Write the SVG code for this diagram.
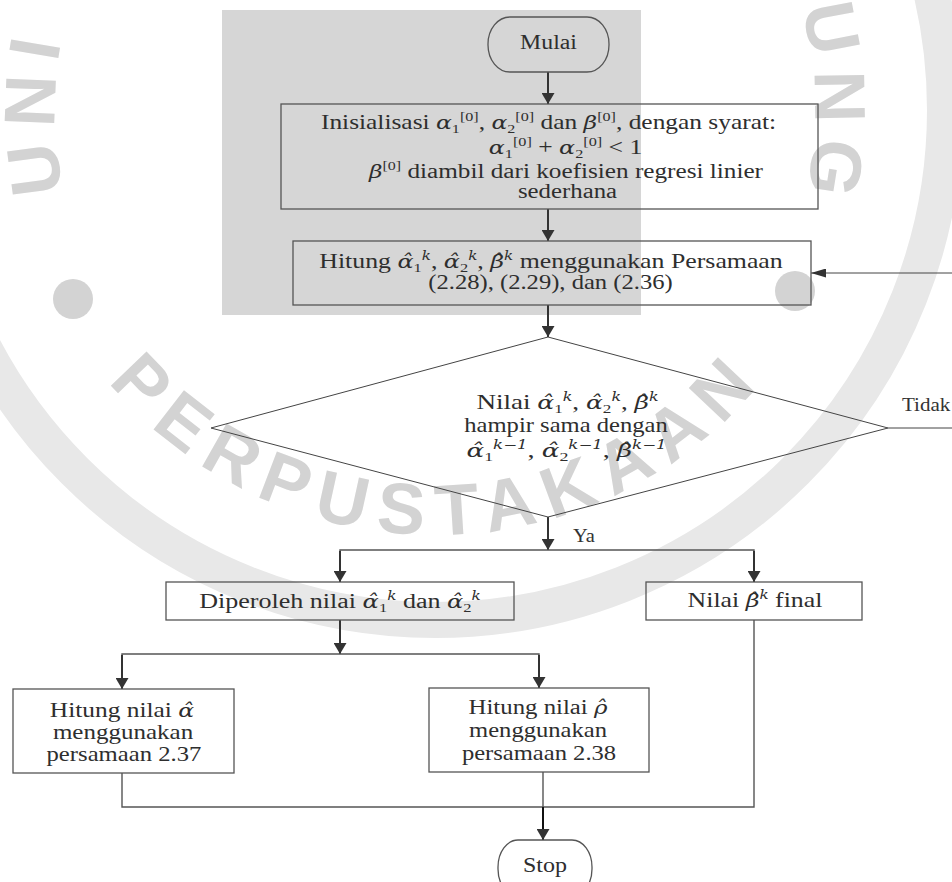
<svg xmlns="http://www.w3.org/2000/svg" width="952" height="882" viewBox="0 0 952 882">
<style>
.t{font-family:"Liberation Serif","Times New Roman",serif;font-size:20.5px;fill:#2e2e2e;text-anchor:middle}
.l{font-family:"Liberation Serif","Times New Roman",serif;font-size:18px;fill:#333}
.m{font-family:"DejaVu Serif",serif;font-style:italic;font-size:19px}
.s{font-family:"Liberation Serif","Times New Roman",serif;font-size:13px;font-style:normal}
.k{font-family:"DejaVu Serif",serif;font-style:italic;font-size:12px}
.box{fill:none;stroke:#555;stroke-width:1.3}
.ar{fill:none;stroke:#333;stroke-width:2}
.ln{fill:none;stroke:#555;stroke-width:1.4}
.wm{font-family:"Liberation Sans",Arial,sans-serif;font-weight:bold;font-size:72px;fill:#d3d3d3;letter-spacing:13px}
</style>
<defs>
<marker id="ah" viewBox="0 0 11 13" markerWidth="11" markerHeight="13" refX="11" refY="6.5" orient="auto" markerUnits="userSpaceOnUse"><path d="M0,0 L11,6.5 L0,13 z" fill="#333"/></marker>
<marker id="ahs" viewBox="0 0 15 9" markerWidth="15" markerHeight="9" refX="15" refY="4.5" orient="auto" markerUnits="userSpaceOnUse"><path d="M0,0 L15,4.5 L0,9 z" fill="#333"/></marker>
<path id="wmTop" d="M77.9,240 A380,380 0 1 1 792.1,240"/>
<path id="wmBot" d="M10,110 A425,425 0 0 0 860,110"/>
</defs>
<rect width="952" height="882" fill="#fff"/>
<g id="watermark">
<circle cx="435" cy="110" r="510" fill="none" stroke="#e8e8e8" stroke-width="36"/>
<circle cx="73" cy="299" r="20" fill="#d3d3d3"/>
<circle cx="795" cy="291" r="20" fill="#d3d3d3"/>
<text class="wm"><textPath href="#wmTop" startOffset="50">UNI</textPath></text>
<text class="wm"><textPath href="#wmTop" startOffset="1222">UNG</textPath></text>
<text class="wm" text-anchor="middle"><textPath href="#wmBot" startOffset="670">PERPUSTAKAAN</textPath></text>
</g>
<rect id="shade" x="222" y="10" width="419" height="305" fill="#d6d6d6"/>
<g id="connectors">
<line class="ar" x1="548" y1="72" x2="548" y2="104" marker-end="url(#ah)"/>
<line class="ar" x1="548" y1="209" x2="548" y2="241" marker-end="url(#ah)"/>
<line class="ar" x1="548" y1="305" x2="548" y2="337" marker-end="url(#ah)"/>
<line class="ar" x1="548" y1="517" x2="548" y2="550" marker-end="url(#ah)"/>
<polyline class="ln" points="340,582 340,550 754,550 754,582"/>
<line class="ar" x1="340" y1="551" x2="340" y2="582" marker-end="url(#ah)"/>
<line class="ar" x1="754" y1="551" x2="754" y2="582" marker-end="url(#ah)"/>
<line class="ar" x1="340" y1="620" x2="340" y2="654" marker-end="url(#ah)"/>
<polyline class="ln" points="122,689 122,654 539,654 539,688"/>
<line class="ar" x1="122" y1="655" x2="122" y2="689" marker-end="url(#ah)"/>
<line class="ar" x1="539" y1="655" x2="539" y2="688" marker-end="url(#ah)"/>
<polyline class="ln" points="122,773 122,807 754,807 754,620"/>
<line class="ln" x1="543" y1="772" x2="543" y2="807"/>
<line x1="543" y1="807" x2="543" y2="840" stroke="#111" stroke-width="2" marker-end="url(#ah)"/>
<polyline fill="none" stroke="#444" stroke-width="1" points="888,428 956,428 956,273 811,273" marker-end="url(#ahs)"/>
<text class="l" transform="translate(902,411) scale(1.17,1)">Tidak</text>
<text class="l" transform="translate(573,542) scale(1.14,1)">Ya</text>
</g>
<g id="n-mulai">
<rect class="box" x="488" y="17" width="121" height="55" rx="22" ry="27"/>
<text class="t" transform="translate(548.5,49) scale(1.16,1)">Mulai</text>
</g>
<g id="n-init">
<rect class="box" x="281" y="104" width="537" height="105"/>
<text class="t" transform="translate(548.5,129) scale(1.24,1)">Inisialisasi <tspan class="m">α</tspan><tspan class="s" baseline-shift="-4">1</tspan><tspan class="s" baseline-shift="8">[0]</tspan>, <tspan class="m">α</tspan><tspan class="s" baseline-shift="-4">2</tspan><tspan class="s" baseline-shift="8">[0]</tspan> dan <tspan class="m">β</tspan><tspan class="s" baseline-shift="8">[0]</tspan>, dengan syarat:</text>
<text class="t" transform="translate(565.5,154) scale(1.25,1)"><tspan class="m">α</tspan><tspan class="s" baseline-shift="-4">1</tspan><tspan class="s" baseline-shift="8">[0]</tspan> + <tspan class="m">α</tspan><tspan class="s" baseline-shift="-4">2</tspan><tspan class="s" baseline-shift="8">[0]</tspan> &lt; 1</text>
<text class="t" transform="translate(566,178) scale(1.23,1)"><tspan class="m">β</tspan><tspan class="s" baseline-shift="8">[0]</tspan> diambil dari koefisien regresi linier</text>
<text class="t" transform="translate(567.5,198) scale(1.21,1)">sederhana</text>
</g>
<g id="n-hitung">
<rect class="box" x="293" y="241" width="518" height="64"/>
<text class="t" transform="translate(551,268) scale(1.26,1)">Hitung <tspan class="m">α̂</tspan><tspan class="s" baseline-shift="-4">1</tspan><tspan class="k" baseline-shift="8">k</tspan>, <tspan class="m">α̂</tspan><tspan class="s" baseline-shift="-4">2</tspan><tspan class="k" baseline-shift="8">k</tspan>, <tspan class="m">β̂</tspan><tspan class="k" baseline-shift="8">k</tspan> menggunakan Persamaan</text>
<text class="t" transform="translate(550.5,289) scale(1.2,1)">(2.28), (2.29), dan (2.36)</text>
</g>
<g id="n-decision">
<polygon class="box" style="stroke:#444;stroke-width:1" points="548,337 888,428 548,517 211,428"/>
<text class="t" transform="translate(567.5,409) scale(1.32,1)">Nilai <tspan class="m">α̂</tspan><tspan class="s" baseline-shift="-4">1</tspan><tspan class="k" baseline-shift="8">k</tspan>, <tspan class="m">α̂</tspan><tspan class="s" baseline-shift="-4">2</tspan><tspan class="k" baseline-shift="8">k</tspan>, <tspan class="m">β̂</tspan><tspan class="k" baseline-shift="8">k</tspan></text>
<text class="t" transform="translate(566,432) scale(1.2,1)">hampir sama dengan</text>
<text class="t" transform="translate(566.5,457) scale(1.38,1)"><tspan class="m">α̂</tspan><tspan class="s" baseline-shift="-4">1</tspan><tspan class="k" baseline-shift="8">k−1</tspan>, <tspan class="m">α̂</tspan><tspan class="s" baseline-shift="-4">2</tspan><tspan class="k" baseline-shift="8">k−1</tspan>, <tspan class="m">β̂</tspan><tspan class="k" baseline-shift="8">k−1</tspan></text>
</g>
<g id="n-diperoleh">
<rect class="box" x="166" y="582" width="348" height="38"/>
<text class="t" transform="translate(340,608) scale(1.27,1)">Diperoleh nilai <tspan class="m">α̂</tspan><tspan class="s" baseline-shift="-4">1</tspan><tspan class="k" baseline-shift="8">k</tspan> dan <tspan class="m">α̂</tspan><tspan class="s" baseline-shift="-4">2</tspan><tspan class="k" baseline-shift="8">k</tspan></text>
</g>
<g id="n-final">
<rect class="box" x="646" y="582" width="216" height="38"/>
<text class="t" transform="translate(755,607) scale(1.26,1)">Nilai <tspan class="m">β̂</tspan><tspan class="k" baseline-shift="8">k</tspan> final</text>
</g>
<g id="n-alpha">
<rect class="box" x="13" y="689" width="221" height="84"/>
<text class="t" transform="translate(122,717) scale(1.24,1)">Hitung nilai <tspan class="m">α̂</tspan></text>
<text class="t" transform="translate(123,739) scale(1.22,1)">menggunakan</text>
<text class="t" transform="translate(124,761) scale(1.205,1)">persamaan 2.37</text>
</g>
<g id="n-rho">
<rect class="box" x="429" y="688" width="220" height="84"/>
<text class="t" transform="translate(538,714) scale(1.21,1)">Hitung nilai <tspan class="m">ρ̂</tspan></text>
<text class="t" transform="translate(538,737) scale(1.2,1)">menggunakan</text>
<text class="t" transform="translate(539,760) scale(1.2,1)">persamaan 2.38</text>
</g>
<g id="n-stop">
<rect class="box" x="498" y="840" width="94" height="56" rx="20" ry="27"/>
<text class="t" transform="translate(545,872) scale(1.17,1)">Stop</text>
</g>
</svg>
